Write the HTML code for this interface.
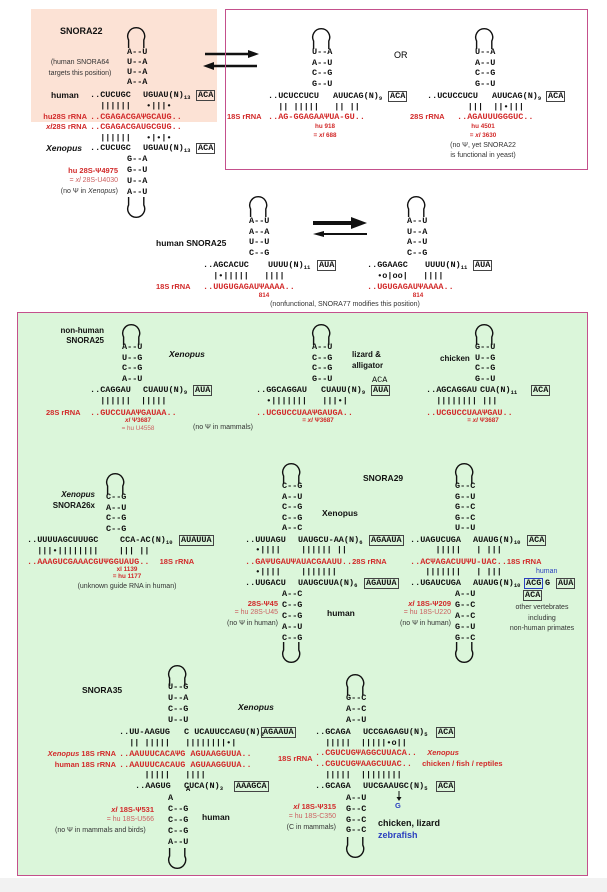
<!DOCTYPE html>
<html><head><meta charset="utf-8"><style>
body{margin:0;width:607px;height:892px;position:relative;background:#fff;overflow:hidden}
.a{position:absolute;white-space:pre}
.m{font:bold 8.5px/10px "Liberation Mono",monospace;color:#111}
.r{color:#d22a2a}
.lr{color:#cc6060}
.s{font-family:"Liberation Sans",sans-serif;font-size:7px;line-height:10px;color:#333}
.sb{font-family:"Liberation Sans",sans-serif;font-weight:bold;font-size:8.5px;line-height:10px;color:#111}
.sr{font-family:"Liberation Sans",sans-serif;font-weight:bold;font-size:7.5px;line-height:10px;color:#d22a2a}
.tn{font-family:"Liberation Sans",sans-serif;font-weight:bold;font-size:6.3px;line-height:9px;color:#d22a2a;text-align:center}
.n{font-size:5.5px;font-style:normal;vertical-align:-2px}
.x{position:absolute;border:0.9px solid #444;font:bold 8.5px/9px "Liberation Mono",monospace;padding:0 1px;color:#111}
svg{position:absolute;overflow:visible}
</style></head><body>
<svg width="0" height="0"><defs>
<path id="lt" d="M2.6 18 V10 A8.5 8.5 0 1 1 17.8 10 V18" fill="none" stroke="#111" stroke-width="1.4"/>
<path id="lb" d="M2.6 0 V8 A8.5 8.5 0 1 0 17.8 8 V0" fill="none" stroke="#111" stroke-width="1.4"/>
</defs></svg>

<!-- TOP LEFT -->
<div class="a" style="left:31px;top:9px;width:186px;height:113px;background:#fce2d5"></div>
<div class="a sb" style="left:60px;top:26px;font-size:9px">SNORA22</div>
<svg style="left:126px;top:30px" width="21" height="18"><use href="#lt"/></svg>
<div class="a m" style="left:127px;top:47px">A--U
U--A
U--A
A--A</div>
<div class="a s" style="left:25px;top:57px;width:110px;text-align:center;line-height:11px">(human SNORA64
targets this position)</div>
<div class="a sb" style="left:51px;top:90px">human</div>
<div class="a m" style="left:90px;top:90px">..CUCUGC</div>
<div class="a m" style="left:143px;top:90px">UGUAU(N)<i class="n">13</i></div>
<div class="x" style="left:196px;top:90px">ACA</div>
<div class="a m" style="left:90px;top:101px">  ||||||   •|||•</div>
<div class="a sr" style="left:0;width:87px;text-align:right;top:112px">hu28S rRNA</div>
<div class="a m r" style="left:90px;top:112px">..CGAGACGAΨGCAUG..</div>
<div class="a sr" style="left:0;width:87px;text-align:right;top:122px"><i>xl</i>28S rRNA</div>
<div class="a m r" style="left:90px;top:122px">..CGAGACGAUGCGUG..</div>
<div class="a m" style="left:90px;top:133px">  ||||||   •|•|•</div>
<div class="a sb" style="left:0;width:82px;text-align:right;top:143px"><i>Xenopus</i></div>
<div class="a m" style="left:90px;top:143px">..CUCUGC</div>
<div class="a m" style="left:143px;top:143px">UGUAU(N)<i class="n">13</i></div>
<div class="x" style="left:196px;top:143px">ACA</div>
<div class="a m" style="left:127px;top:154px;line-height:11px">G--A
G--U
U--A
A--U</div>
<svg style="left:126px;top:197px" width="21" height="18"><use href="#lb"/></svg>
<div class="a" style="left:0;width:118px;text-align:right;top:165px;font:bold 7.5px/11px 'Liberation Sans',sans-serif;color:#d22a2a">hu 28S-Ψ4975</div>
<div class="a s lr" style="left:0;width:118px;text-align:right;top:176px;color:#cc6060">= <i>xl</i> 28S-U4030</div>
<div class="a s" style="left:0;width:118px;text-align:right;top:187px">(no Ψ in <i>Xenopus</i>)</div>

<svg style="left:203px;top:48px" width="56" height="24">
<line x1="2" y1="6" x2="46" y2="6" stroke="#111" stroke-width="2.5"/><polygon points="56,6 45,2 45,10" fill="#111"/>
<line x1="10" y1="18" x2="54" y2="18" stroke="#111" stroke-width="2.5"/><polygon points="0,18 11,14 11,22" fill="#111"/>
</svg>

<!-- PINK BOX -->
<div class="a" style="left:225px;top:9px;width:361px;height:159px;border:1.4px solid #c4508c"></div>
<svg style="left:311px;top:31px" width="21" height="18"><use href="#lt"/></svg>
<div class="a m" style="left:312px;top:47px;line-height:10.7px">U--A
A--U
C--G
G--U</div>
<div class="a" style="left:394px;top:50px;font:9px 'Liberation Sans',sans-serif">OR</div>
<div class="a m" style="left:268px;top:91px">..UCUCCUCU</div>
<div class="a m" style="left:333px;top:91px">AUUCAG(N)<i class="n">9</i></div>
<div class="x" style="left:388px;top:91px">ACA</div>
<div class="a m" style="left:268px;top:102px">  || |||||   || ||</div>
<div class="a sr" style="left:227px;top:112px">18S rRNA</div>
<div class="a m r" style="left:268px;top:112px">..AG-GGAGAAΨUA-GU..</div>
<div class="a tn" style="left:295px;width:60px;top:122px">hu 918<br>= <i>xl</i> 688</div>
<svg style="left:474px;top:31px" width="21" height="18"><use href="#lt"/></svg>
<div class="a m" style="left:475px;top:47px;line-height:10.7px">U--A
A--U
C--G
G--U</div>
<div class="a m" style="left:427px;top:91px">..UCUCCUCU</div>
<div class="a m" style="left:492px;top:91px">AUUCAG(N)<i class="n">9</i></div>
<div class="x" style="left:546px;top:91px">ACA</div>
<div class="a m" style="left:427px;top:102px">        |||  ||•|||</div>
<div class="a sr" style="left:410px;top:112px">28S rRNA</div>
<div class="a m r" style="left:457px;top:112px">..AGAUUUGGGUC..</div>
<div class="a tn" style="left:453px;width:60px;top:122px">hu 4501<br>= <i>xl</i> 3630</div>
<div class="a s" style="left:423px;width:120px;text-align:center;top:141px">(no Ψ, yet SNORA22
is functional in yeast)</div>

<!-- MIDDLE -->
<svg style="left:248px;top:199px" width="21" height="18"><use href="#lt"/></svg>
<div class="a m" style="left:249px;top:216px;line-height:10.7px">A--U
A--A
U--U
C--G</div>
<div class="a sb" style="left:156px;top:238px">human SNORA25</div>
<div class="a m" style="left:203px;top:260px">..AGCACUC</div>
<div class="a m" style="left:268px;top:260px">UUUU(N)<i class="n">11</i></div>
<div class="x" style="left:317px;top:260px">AUA</div>
<div class="a m" style="left:203px;top:271px">  |•|||||   ||||</div>
<div class="a sr" style="left:156px;top:282px">18S rRNA</div>
<div class="a m r" style="left:203px;top:282px">..UUGUGAGAUΨAAAA..</div>
<div class="a tn" style="left:249px;width:30px;top:291px">814</div>
<div class="a s" style="left:245px;width:200px;text-align:center;top:300px">(nonfunctional, SNORA77 modifies this position)</div>
<svg style="left:313px;top:215px" width="56" height="24">
<line x1="0" y1="8" x2="40" y2="8" stroke="#111" stroke-width="4"/><polygon points="54,8 38,2 38,14" fill="#111"/>
<line x1="10" y1="19" x2="54" y2="19" stroke="#111" stroke-width="2"/><polygon points="0,19 11,16 11,22" fill="#111"/>
</svg>
<svg style="left:406px;top:199px" width="21" height="18"><use href="#lt"/></svg>
<div class="a m" style="left:407px;top:216px;line-height:10.7px">A--U
U--A
A--U
C--G</div>
<div class="a m" style="left:367px;top:260px">..GGAAGC</div>
<div class="a m" style="left:425px;top:260px">UUUU(N)<i class="n">11</i></div>
<div class="x" style="left:473px;top:260px">AUA</div>
<div class="a m" style="left:367px;top:271px">  •o|oo|   ||||</div>
<div class="a m r" style="left:367px;top:282px">..UGUGAGAUΨAAAA..</div>
<div class="a tn" style="left:403px;width:30px;top:291px">814</div>

<!-- GREEN BOX -->
<div class="a" style="left:17px;top:312px;width:569px;height:562px;background:#dbf6da;border:1.4px solid #c4508c"></div>
<div class="a" style="left:0;top:878px;width:607px;height:14px;background:#f2f2f2"></div>

<!-- row1 -->
<div class="a sb" style="left:0;width:104px;text-align:right;top:326px;font-size:8px">non-human
SNORA25</div>
<svg style="left:121px;top:327px" width="21" height="18"><use href="#lt"/></svg>
<div class="a m" style="left:122px;top:342px;line-height:10.5px">A--U
U--G
C--G
A--U</div>
<div class="a sb" style="left:169px;top:349px"><i>Xenopus</i></div>
<div class="a m" style="left:90px;top:385px">..CAGGAU</div>
<div class="a m" style="left:143px;top:385px">CUAUU(N)<i class="n">9</i></div>
<div class="x" style="left:193px;top:385px">AUA</div>
<div class="a m" style="left:90px;top:396px">  ||||||  |||||</div>
<div class="a sr" style="left:46px;top:408px">28S rRNA</div>
<div class="a m r" style="left:90px;top:408px">..GUCCUAAΨGAUAA..</div>
<div class="a tn" style="left:113px;width:50px;top:416px"><i>xl</i> Ψ3687</div>
<div class="a tn" style="left:113px;width:50px;top:424px;color:#cc6060;font-weight:normal">= hu U4558</div>
<div class="a s" style="left:193px;top:423px">(no Ψ in mammals)</div>

<svg style="left:311px;top:327px" width="21" height="18"><use href="#lt"/></svg>
<div class="a m" style="left:312px;top:342px;line-height:10.5px">A--U
C--G
C--G
G--U</div>
<div class="a sb" style="left:352px;top:350px;font-size:8px;line-height:10.5px">lizard &amp;
alligator</div>
<div class="a m" style="left:372px;top:375px;font-weight:normal">ACA</div>
<div class="a m" style="left:256px;top:385px">..GGCAGGAU</div>
<div class="a m" style="left:321px;top:385px">CUAUU(N)<i class="n">9</i></div>
<div class="x" style="left:371px;top:385px">AUA</div>
<div class="a m" style="left:256px;top:396px">  •|||||||   |||•|</div>
<div class="a m r" style="left:256px;top:408px">..UCGUCCUAAΨGAUGA..</div>
<div class="a tn" style="left:293px;width:50px;top:416px">= <i>xl</i> Ψ3687</div>

<div class="a sb" style="left:440px;top:354px;font-size:8px">chicken</div>
<svg style="left:474px;top:327px" width="21" height="18"><use href="#lt"/></svg>
<div class="a m" style="left:475px;top:342px;line-height:10.5px">G--U
U--G
C--G
G--U</div>
<div class="a m" style="left:426px;top:385px">..AGCAGGAU</div>
<div class="a m" style="left:480px;top:385px">CUA(N)<i class="n">11</i></div>
<div class="x" style="left:531px;top:385px">ACA</div>
<div class="a m" style="left:426px;top:396px">  |||||||| |||</div>
<div class="a m r" style="left:426px;top:408px">..UCGUCCUAAΨGAU..</div>
<div class="a tn" style="left:458px;width:50px;top:416px">= <i>xl</i> Ψ3687</div>

<!-- row2 SNORA26x -->
<div class="a sb" style="left:0;width:95px;text-align:right;top:489px;font-size:8px;line-height:11px"><i>Xenopus</i>
SNORA26x</div>
<svg style="left:105px;top:476px" width="21" height="18"><use href="#lt"/></svg>
<div class="a m" style="left:106px;top:492px;line-height:10.7px">C--G
A--U
C--G
C--G</div>
<div class="a m" style="left:27px;top:535px">..UUUUAGCUUUGC</div>
<div class="a m" style="left:120px;top:535px">CCA-AC(N)<i class="n">10</i></div>
<div class="x" style="left:179px;top:535px">AUAUUA</div>
<div class="a m" style="left:27px;top:546px">  |||•||||||||    ||| ||</div>
<div class="a m r" style="left:27px;top:557px">..AAAGUCGAAACGUΨGGUAUG..  <span class="sr" style="font-size:7.5px">18S rRNA</span></div>
<div class="a tn" style="left:102px;width:50px;top:566px;line-height:7px">xl 1139<br>= hu 1177</div>
<div class="a s" style="left:57px;width:140px;text-align:center;top:582px">(unknown guide RNA in human)</div>

<!-- SNORA29 -->
<div class="a sb" style="left:363px;top:473px">SNORA29</div>
<div class="a sb" style="left:322px;top:508px;font-weight:bold">Xenopus</div>
<svg style="left:281px;top:466px" width="21" height="18"><use href="#lt"/></svg>
<div class="a m" style="left:282px;top:481px;line-height:10.6px">C--G
A--U
C--G
C--G
A--C</div>
<div class="a m" style="left:245px;top:535px">..UUUAGU</div>
<div class="a m" style="left:298px;top:535px">UAUGCU-AA(N)<i class="n">6</i></div>
<div class="x" style="left:369px;top:535px">AGAAUA</div>
<div class="a m" style="left:245px;top:545px">  •||||    |||||| ||</div>
<div class="a m r" style="left:245px;top:557px">..GAΨUGAUΨAUACGAAUU..<span class="sr">28S rRNA</span></div>
<div class="a m" style="left:245px;top:567px">  •||||    |||||||</div>
<div class="a m" style="left:245px;top:578px">..UUGACU</div>
<div class="a m" style="left:298px;top:578px">UAUGCUUA(N)<i class="n">6</i></div>
<div class="x" style="left:364px;top:578px">AGAUUA</div>
<div class="a m" style="left:282px;top:589px;line-height:10.9px">A--C
C--G
C--G
A--U
C--G</div>
<svg style="left:281px;top:642px" width="21" height="18"><use href="#lb"/></svg>
<div class="a" style="left:0;width:278px;text-align:right;top:598px;font:bold 7.5px/11px 'Liberation Sans',sans-serif;color:#d22a2a">28S-Ψ45</div>
<div class="a s" style="left:0;width:278px;text-align:right;top:608px;color:#cc6060">= hu 28S-U45</div>
<div class="a s" style="left:0;width:278px;text-align:right;top:619px">(no Ψ in human)</div>
<div class="a sb" style="left:327px;top:608px">human</div>

<svg style="left:454px;top:466px" width="21" height="18"><use href="#lt"/></svg>
<div class="a m" style="left:455px;top:481px;line-height:10.6px">G--C
G--U
G--C
G--C
U--U</div>
<div class="a m" style="left:410px;top:535px">..UAGUCUGA</div>
<div class="a m" style="left:473px;top:535px">AUAUG(N)<i class="n">10</i></div>
<div class="x" style="left:527px;top:535px">ACA</div>
<div class="a m" style="left:410px;top:545px">     |||||   | |||</div>
<div class="a m r" style="left:410px;top:557px">..ACΨAGACUUΨU-UAC..<span class="sr">18S rRNA</span></div>
<div class="a s" style="left:536px;top:567px;color:#2a3fbf">human</div>
<div class="a m" style="left:410px;top:567px">   |||||||   | |||</div>
<div class="a m" style="left:410px;top:578px">..UGAUCUGA</div>
<div class="a m" style="left:473px;top:578px">AUAUG(N)<i class="n">10</i></div>
<div class="x" style="left:524px;top:578px;border-color:#2a3fbf">ACG</div>
<div class="a m" style="left:545px;top:578px">G</div>
<div class="x" style="left:556px;top:578px">AUA</div>
<div class="x" style="left:523px;top:590px">ACA</div>
<div class="a m" style="left:455px;top:589px;line-height:10.9px">A--U
G--C
A--C
G--U
G--C</div>
<svg style="left:454px;top:642px" width="21" height="18"><use href="#lb"/></svg>
<div class="a" style="left:0;width:451px;text-align:right;top:598px;font:bold 7.5px/11px 'Liberation Sans',sans-serif;color:#d22a2a"><i>xl</i> 18S-Ψ209</div>
<div class="a s" style="left:0;width:451px;text-align:right;top:608px;color:#cc6060">= hu 18S-U220</div>
<div class="a s" style="left:0;width:451px;text-align:right;top:619px">(no Ψ in human)</div>
<div class="a s" style="left:492px;width:100px;text-align:center;top:603px;line-height:10.6px">other vertebrates
including
non-human primates</div>

<!-- SNORA35 -->
<div class="a sb" style="left:82px;top:685px">SNORA35</div>
<svg style="left:167px;top:668px" width="21" height="18"><use href="#lt"/></svg>
<div class="a m" style="left:168px;top:682px;line-height:11px">U--G
U--A
C--G
U--U</div>
<div class="a sb" style="left:238px;top:702px"><i>Xenopus</i></div>
<div class="a m" style="left:119px;top:727px">..UU-AAGUG</div>
<div class="a m" style="left:184px;top:727px">C UCAUUCCAGU(N)<i class="n">3</i></div>
<div class="x" style="left:261px;top:727px">AGAAUA</div>
<div class="a m" style="left:119px;top:738px">  || |||||   ||||||||•|</div>
<div class="a sr" style="left:0;width:116px;text-align:right;top:749px"><i>Xenopus</i> 18S rRNA</div>
<div class="a m r" style="left:119px;top:749px">..AAUUUCACAΨG AGUAAGGUUA..</div>
<div class="a sr" style="left:0;width:116px;text-align:right;top:760px">human 18S rRNA</div>
<div class="a m r" style="left:119px;top:760px">..AAUUUCACAUG AGUAAGGUUA..</div>
<div class="a m" style="left:119px;top:770px">     |||||   ||||</div>
<div class="a m" style="left:135px;top:781px">..AAGUG</div>
<div class="a m" style="left:184px;top:781px">CUCA(N)<i class="n">3</i></div>
<div class="a m" style="left:186px;top:785px;font-size:7px">A</div>
<div class="x" style="left:234px;top:781px">AAAGCA</div>
<div class="a m" style="left:168px;top:793px;line-height:11px">A
C--G
C--G
C--G
A--U</div>
<svg style="left:167px;top:848px" width="21" height="18"><use href="#lb"/></svg>
<div class="a" style="left:0;width:154px;text-align:right;top:804px;font:bold 7.5px/11px 'Liberation Sans',sans-serif;color:#d22a2a"><i>xl</i> 18S-Ψ531</div>
<div class="a s" style="left:0;width:154px;text-align:right;top:815px;color:#cc6060">= hu 18S-U566</div>
<div class="a s" style="left:55px;top:826px">(no Ψ in mammals and birds)</div>
<div class="a sb" style="left:202px;top:812px;font-weight:normal;font-size:8.5px"><b>human</b></div>

<svg style="left:345px;top:677px" width="21" height="18"><use href="#lt"/></svg>
<div class="a m" style="left:346px;top:693px;line-height:11px">G--C
A--C
A--U</div>
<div class="a m" style="left:315px;top:727px">..GCAGA</div>
<div class="a m" style="left:363px;top:727px">UCCGAGAGU(N)<i class="n">5</i></div>
<div class="x" style="left:436px;top:727px">ACA</div>
<div class="a m" style="left:315px;top:738px">  |||||  |||||•o||</div>
<div class="a sr" style="left:278px;top:754px">18S rRNA</div>
<div class="a m r" style="left:315px;top:748px">..CGUCUGΨAGGCUUACA..  <span class="sr"><i>Xenopus</i></span></div>
<div class="a m r" style="left:315px;top:759px">..CGUCUGΨAAGCUUAC..  <span class="sr">chicken / fish / reptiles</span></div>
<div class="a m" style="left:315px;top:770px">  |||||  ||||||||</div>
<div class="a m" style="left:315px;top:781px">..GCAGA</div>
<div class="a m" style="left:363px;top:781px">UUCGAAUGC(N)<i class="n">5</i></div>
<div class="x" style="left:436px;top:781px">ACA</div>
<svg style="left:396px;top:791px" width="6" height="10"><line x1="3" y1="0" x2="3" y2="7" stroke="#111" stroke-width="1"/><polygon points="0.5,6 5.5,6 3,10" fill="#111"/></svg>
<div class="a sb" style="left:395px;top:801px;color:#2a3fbf;font-size:7.5px">G</div>
<div class="a m" style="left:346px;top:793px;line-height:10.8px">A--U
G--C
G--C
G--C</div>
<svg style="left:345px;top:837px" width="21" height="18"><use href="#lb"/></svg>
<div class="a" style="left:0;width:336px;text-align:right;top:801px;font:bold 7.5px/11px 'Liberation Sans',sans-serif;color:#d22a2a"><i>xl</i> 18S-Ψ315</div>
<div class="a s" style="left:0;width:336px;text-align:right;top:812px;color:#cc6060">= hu 18S-C350</div>
<div class="a s" style="left:0;width:336px;text-align:right;top:823px">(C in mammals)</div>
<div class="a sb" style="left:378px;top:818px;font-size:9px;line-height:11.5px">chicken, lizard
<span style="color:#2a3fbf">zebrafish</span></div>
</body></html>
